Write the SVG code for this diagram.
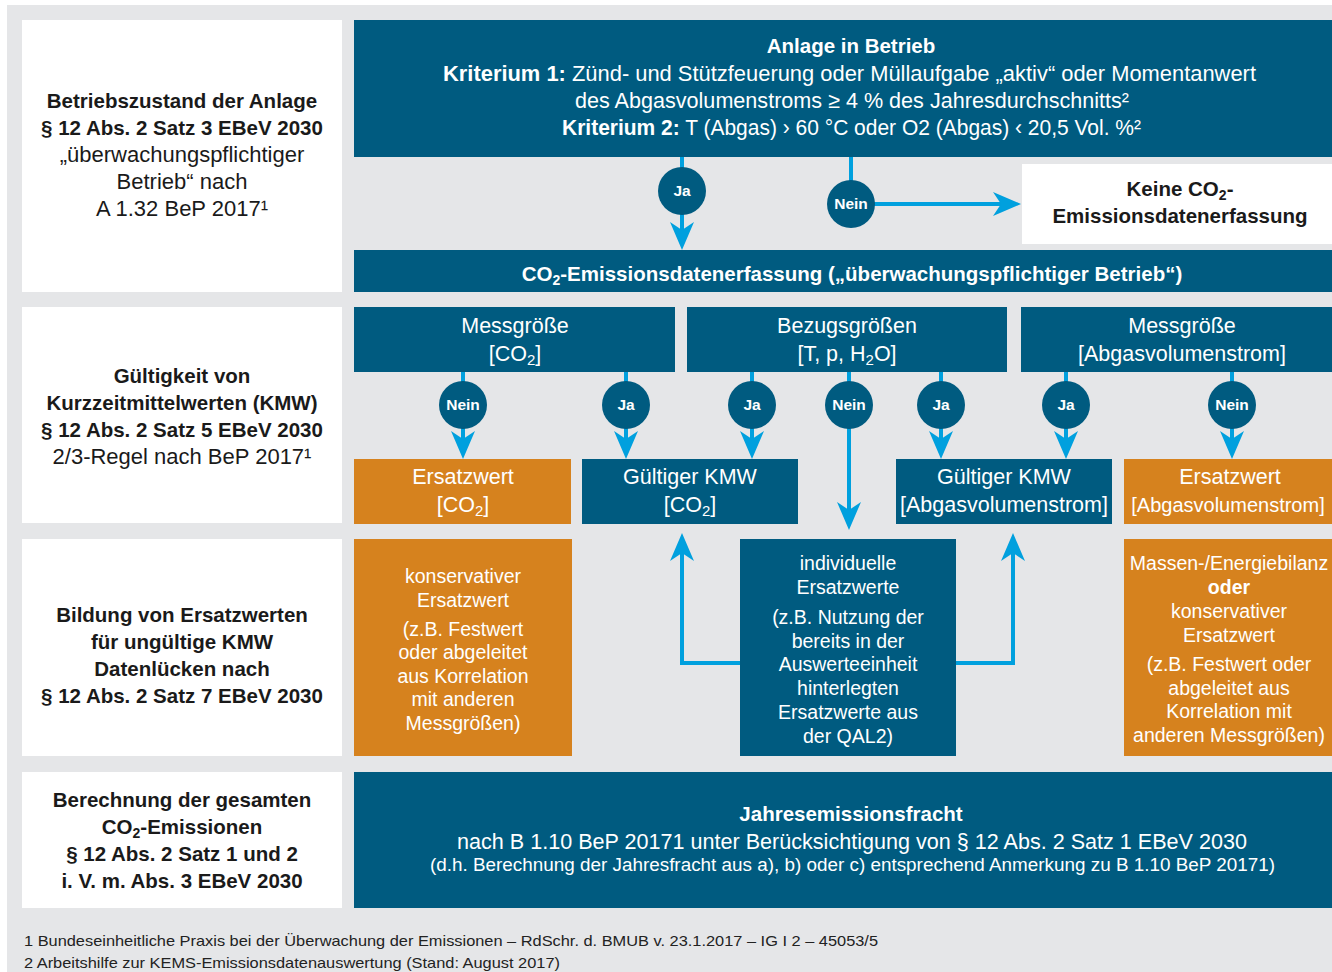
<svg xmlns="http://www.w3.org/2000/svg" width="1332" height="972" viewBox="0 0 1332 972">
<defs>
<style>
text { font-family: "Liberation Sans", Arial, sans-serif; text-anchor: middle; }
.b { font-weight: bold; }
.dk { fill: #1a1a1a; }
.wt { fill: #ffffff; }
.box-b { fill: #005b80; }
.box-o { fill: #d6821e; }
.box-w { fill: #ffffff; }
.lbl { font-size: 20.5px; }
.reg { font-size: 22px; }
.hd { font-size: 21.5px; }
.sm { font-size: 19.5px; }
.dot { fill: #005b80; }
.dt { font-size: 15.5px; font-weight: bold; fill: #ffffff; }
.con { fill: none; stroke: #00a0de; stroke-width: 4; marker-end: url(#ah); }
.fn { font-size: 15px; fill: #222222; text-anchor: start; }
</style>
<marker id="ah" markerUnits="userSpaceOnUse" viewBox="0 0 28 24" markerWidth="28" markerHeight="24" refX="8" refY="12" orient="auto">
<path d="M0,0 L28,12 L0,24 L8,12 Z" fill="#00a0de"/>
</marker>
</defs>

<rect x="0" y="0" width="1332" height="972" fill="#ffffff"/>
<rect x="7" y="5" width="1325" height="967" fill="#e5e6e8"/>

<!-- Left column -->
<g id="lbl-betriebszustand">
<rect class="box-w" x="22" y="20" width="320" height="272"/>
<text class="lbl b dk" x="182" y="108">Betriebszustand der Anlage</text>
<text class="lbl b dk" x="182" y="135">§ 12 Abs. 2 Satz 3 EBeV 2030</text>
<text class="reg dk" x="182" y="162">„überwachungspflichtiger</text>
<text class="reg dk" x="182" y="189">Betrieb“ nach</text>
<text class="reg dk" x="182" y="216">A 1.32 BeP 2017¹</text>
</g>
<g id="lbl-gueltigkeit">
<rect class="box-w" x="22" y="307" width="320" height="216"/>
<text class="lbl b dk" x="182" y="383">Gültigkeit von</text>
<text class="lbl b dk" x="182" y="410">Kurzzeitmittelwerten (KMW)</text>
<text class="lbl b dk" x="182" y="437">§ 12 Abs. 2 Satz 5 EBeV 2030</text>
<text class="reg dk" x="182" y="464">2/3-Regel nach BeP 2017¹</text>
</g>
<g id="lbl-bildung">
<rect class="box-w" x="22" y="539" width="320" height="217"/>
<text class="lbl b dk" x="182" y="622">Bildung von Ersatzwerten</text>
<text class="lbl b dk" x="182" y="649">für ungültige KMW</text>
<text class="lbl b dk" x="182" y="676">Datenlücken nach</text>
<text class="lbl b dk" x="182" y="703">§ 12 Abs. 2 Satz 7 EBeV 2030</text>
</g>
<g id="lbl-berechnung">
<rect class="box-w" x="22" y="772" width="320" height="136"/>
<text class="lbl b dk" x="182" y="807">Berechnung der gesamten</text>
<text class="lbl b dk" x="182" y="834">CO<tspan font-size="14" dy="4">2</tspan><tspan dy="-4">-Emissionen</tspan></text>
<text class="lbl b dk" x="182" y="861">§ 12 Abs. 2 Satz 1 und 2</text>
<text class="lbl b dk" x="182" y="888">i. V. m. Abs. 3 EBeV 2030</text>
</g>

<!-- Connectors -->
<g id="connectors">
<path class="con" d="M682,157 V230"/>
<path class="con" d="M851,157 V204 H1001"/>
<path class="con" d="M463,372 V439"/>
<path class="con" d="M626,372 V439"/>
<path class="con" d="M752,372 V439"/>
<path class="con" d="M849,372 V510"/>
<path class="con" d="M941,372 V439"/>
<path class="con" d="M1066,372 V439"/>
<path class="con" d="M1232,372 V439"/>
<path class="con" d="M740,663 H682 V553"/>
<path class="con" d="M956,663 H1013 V553"/>
</g>

<!-- Top section -->
<g id="anlage-in-betrieb">
<rect class="box-b" x="354" y="20" width="978" height="137"/>
<text class="lbl b wt" x="851" y="53">Anlage in Betrieb</text>
<text class="reg wt" x="849.5" y="81" textLength="813" lengthAdjust="spacingAndGlyphs"><tspan font-weight="bold">Kriterium 1:</tspan> Zünd- und Stützfeuerung oder Müllaufgabe „aktiv“ oder Momentanwert</text>
<text class="reg wt" x="852" y="108" textLength="554" lengthAdjust="spacingAndGlyphs">des Abgasvolumenstroms ≥ 4 % des Jahresdurchschnitts²</text>
<text class="reg wt" x="851.5" y="135" textLength="579" lengthAdjust="spacingAndGlyphs"><tspan font-weight="bold">Kriterium 2:</tspan> T (Abgas) › 60 °C oder O2 (Abgas) ‹ 20,5 Vol. %²</text>
</g>
<g id="dec-ja-top">
<circle class="dot" cx="682" cy="191" r="24"/>
<text class="dt" x="682" y="196">Ja</text>
</g>
<g id="dec-nein-top">
<circle class="dot" cx="851" cy="204" r="24"/>
<text class="dt" x="851" y="209">Nein</text>
</g>
<g id="keine-erfassung">
<rect class="box-w" x="1022" y="164" width="310" height="80"/>
<text class="lbl b dk" x="1180" y="196">Keine CO<tspan font-size="14" dy="4">2</tspan><tspan dy="-4">-</tspan></text>
<text class="lbl b dk" x="1180" y="223">Emissionsdatenerfassung</text>
</g>
<g id="co2-erfassung">
<rect class="box-b" x="354" y="250" width="978" height="42"/>
<text class="lbl b wt" x="852" y="281">CO<tspan font-size="14" dy="4">2</tspan><tspan dy="-4">-Emissionsdatenerfassung („überwachungspflichtiger Betrieb“)</tspan></text>
</g>

<!-- Row 2 headers -->
<g id="messgroesse-co2">
<rect class="box-b" x="354" y="307" width="321" height="65"/>
<text class="hd wt" x="515" y="333">Messgröße</text>
<text class="hd wt" x="515" y="361">[CO<tspan font-size="15" dy="4">2</tspan><tspan dy="-4">]</tspan></text>
</g>
<g id="bezugsgroessen">
<rect class="box-b" x="687" y="307" width="320" height="65"/>
<text class="hd wt" x="847" y="333">Bezugsgrößen</text>
<text class="hd wt" x="847" y="361">[T, p, H<tspan font-size="15" dy="4">2</tspan><tspan dy="-4">O]</tspan></text>
</g>
<g id="messgroesse-abgas">
<rect class="box-b" x="1021" y="307" width="311" height="65"/>
<text class="hd wt" x="1182" y="333">Messgröße</text>
<text class="hd wt" x="1182" y="361">[Abgasvolumenstrom]</text>
</g>

<!-- Row 2 decisions -->
<g id="dec-nein-1"><circle class="dot" cx="463" cy="405" r="24"/><text class="dt" x="463" y="410">Nein</text></g>
<g id="dec-ja-1"><circle class="dot" cx="626" cy="405" r="24"/><text class="dt" x="626" y="410">Ja</text></g>
<g id="dec-ja-2"><circle class="dot" cx="752" cy="405" r="24"/><text class="dt" x="752" y="410">Ja</text></g>
<g id="dec-nein-2"><circle class="dot" cx="849" cy="405" r="24"/><text class="dt" x="849" y="410">Nein</text></g>
<g id="dec-ja-3"><circle class="dot" cx="941" cy="405" r="24"/><text class="dt" x="941" y="410">Ja</text></g>
<g id="dec-ja-4"><circle class="dot" cx="1066" cy="405" r="24"/><text class="dt" x="1066" y="410">Ja</text></g>
<g id="dec-nein-3"><circle class="dot" cx="1232" cy="405" r="24"/><text class="dt" x="1232" y="410">Nein</text></g>

<!-- Row 2 results -->
<g id="ersatzwert-co2">
<rect class="box-o" x="354" y="459" width="217" height="65"/>
<text class="hd wt" x="463" y="484">Ersatzwert</text>
<text class="hd wt" x="463" y="512">[CO<tspan font-size="15" dy="4">2</tspan><tspan dy="-4">]</tspan></text>
</g>
<g id="kmw-co2">
<rect class="box-b" x="582" y="459" width="216" height="65"/>
<text class="hd wt" x="690" y="484">Gültiger KMW</text>
<text class="hd wt" x="690" y="512">[CO<tspan font-size="15" dy="4">2</tspan><tspan dy="-4">]</tspan></text>
</g>
<g id="kmw-abgas">
<rect class="box-b" x="896" y="459" width="216" height="65"/>
<text class="hd wt" x="1004" y="484">Gültiger KMW</text>
<text class="hd wt" x="1004" y="512">[Abgasvolumenstrom]</text>
</g>
<g id="ersatzwert-abgas">
<rect class="box-o" x="1124" y="459" width="208" height="65"/>
<text class="hd wt" x="1230" y="484">Ersatzwert</text>
<text class="wt" font-size="20" x="1228" y="512">[Abgasvolumenstrom]</text>
</g>

<!-- Row 3 -->
<g id="konservativ-co2">
<rect class="box-o" x="354" y="539" width="218" height="217"/>
<text class="sm wt" x="463" y="583">konservativer</text>
<text class="sm wt" x="463" y="607">Ersatzwert</text>
<text class="sm wt" x="463" y="636">(z.B. Festwert</text>
<text class="sm wt" x="463" y="659">oder abgeleitet</text>
<text class="sm wt" x="463" y="683">aus Korrelation</text>
<text class="sm wt" x="463" y="706">mit anderen</text>
<text class="sm wt" x="463" y="730">Messgrößen)</text>
</g>
<g id="individuelle">
<rect class="box-b" x="740" y="539" width="216" height="217"/>
<text class="sm wt" x="848" y="570">individuelle</text>
<text class="sm wt" x="848" y="594">Ersatzwerte</text>
<text class="sm wt" x="848" y="624">(z.B. Nutzung der</text>
<text class="sm wt" x="848" y="648">bereits in der</text>
<text class="sm wt" x="848" y="671">Auswerteeinheit</text>
<text class="sm wt" x="848" y="695">hinterlegten</text>
<text class="sm wt" x="848" y="719">Ersatzwerte aus</text>
<text class="sm wt" x="848" y="743">der QAL2)</text>
</g>
<g id="bilanz-abgas">
<rect class="box-o" x="1124" y="539" width="208" height="217"/>
<text class="sm wt" x="1229" y="570">Massen-/Energiebilanz</text>
<text class="sm b wt" x="1229" y="594">oder</text>
<text class="sm wt" x="1229" y="618">konservativer</text>
<text class="sm wt" x="1229" y="642">Ersatzwert</text>
<text class="sm wt" x="1229" y="671">(z.B. Festwert oder</text>
<text class="sm wt" x="1229" y="695">abgeleitet aus</text>
<text class="sm wt" x="1229" y="718">Korrelation mit</text>
<text class="sm wt" x="1229" y="742">anderen Messgrößen)</text>
</g>

<!-- Row 4 -->
<g id="jahresemissionsfracht">
<rect class="box-b" x="354" y="772" width="978" height="136"/>
<text class="lbl b wt" x="851" y="821">Jahresemissionsfracht</text>
<text class="reg wt" x="852" y="849" textLength="790" lengthAdjust="spacingAndGlyphs">nach B 1.10 BeP 20171 unter Berücksichtigung von § 12 Abs. 2 Satz 1 EBeV 2030</text>
<text class="wt" font-size="17.5" x="852.5" y="871" textLength="845" lengthAdjust="spacingAndGlyphs">(d.h. Berechnung der Jahresfracht aus a), b) oder c) entsprechend Anmerkung zu B 1.10 BeP 20171)</text>
</g>

<!-- Footnotes -->
<text class="fn" x="24" y="946" textLength="854" lengthAdjust="spacingAndGlyphs">1 Bundeseinheitliche Praxis bei der Überwachung der Emissionen – RdSchr. d. BMUB v. 23.1.2017 – IG I 2 – 45053/5</text>
<text class="fn" x="24" y="968" textLength="536" lengthAdjust="spacingAndGlyphs">2 Arbeitshilfe zur KEMS-Emissionsdatenauswertung (Stand: August 2017)</text>
</svg>
